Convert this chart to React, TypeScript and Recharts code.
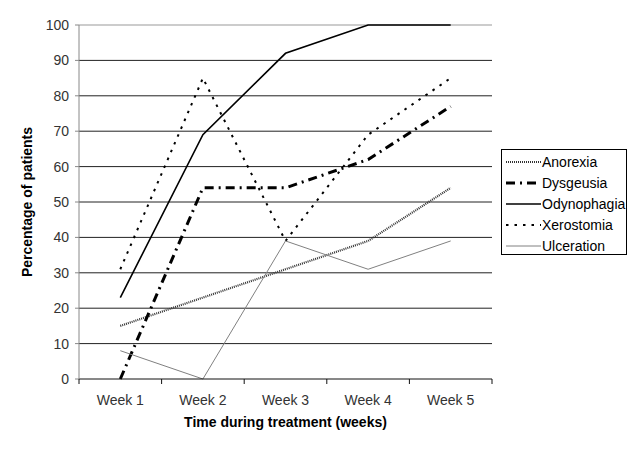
import React from 'react';
import { CartesianGrid, Legend, Line, LineChart, ReferenceLine, XAxis, YAxis } from 'recharts';

const weeks = ['Week 1', 'Week 2', 'Week 3', 'Week 4', 'Week 5'];
const anorexia = [15, 23, 31, 39, 54];
const dysgeusia = [0, 54, 54, 62, 77];
const odynophagia = [23, 69, 92, 100, 100];
const xerostomia = [31, 85, 39, 69, 85];
const ulceration = [8, 0, 39, 31, 39];
const yTicks = [0, 10, 20, 30, 40, 50, 60, 70, 80, 90, 100];

const series = [
  { key: 'Anorexia', values: anorexia, stroke: '#333', width: 2.2, dash: '1 1' },
  { key: 'Dysgeusia', values: dysgeusia, stroke: '#000', width: 3, dash: '9 5 2 5' },
  { key: 'Odynophagia', values: odynophagia, stroke: '#000', width: 1.6, dash: undefined },
  { key: 'Xerostomia', values: xerostomia, stroke: '#000', width: 2, dash: '2.5 6' },
  { key: 'Ulceration', values: ulceration, stroke: '#808080', width: 1, dash: undefined },
];

const data = weeks.map((week, i) => {
  const row: Record<string, string | number> = { week };
  series.forEach((s) => {
    row[s.key] = s.values[i];
  });
  return row;
});

const font = 'Arial, "Liberation Sans", sans-serif';

// labels sit in the middle of each band, tick marks on the band edges
function WeekTick(props: any) {
  const { x, y, payload, index, visibleTicksCount } = props;
  const half = payload.offset || 0;
  const isLast = index === visibleTicksCount - 1;
  return (
    <g>
      <line x1={x - half} y1={y} x2={x - half} y2={y + 5} stroke="#111" />
      {isLast && <line x1={x + half} y1={y} x2={x + half} y2={y + 5} stroke="#111" />}
      <text x={x} y={y + 26} textAnchor="middle" fill="#333" fontSize={14} fontFamily={font}>
        {payload.value}
      </text>
    </g>
  );
}

function LegendBox() {
  return (
    <div
      style={{
        border: '1px solid #000',
        background: '#fff',
        width: 124,
        height: 102,
        boxSizing: 'content-box',
        fontFamily: font,
        fontSize: 14,
        color: '#000',
        paddingTop: 2,
      }}
    >
      {series.map((s) => (
        <div key={s.key} style={{ display: 'flex', alignItems: 'center', height: 20.8 }}>
          <svg width={40} height={10} style={{ flex: 'none' }}>
            <line x1={4} y1={5} x2={39} y2={5} stroke={s.stroke} strokeWidth={s.width} strokeDasharray={s.dash} />
          </svg>
          <span style={{ lineHeight: '16px' }}>{s.key}</span>
        </div>
      ))}
    </div>
  );
}

export default function App() {
  return (
    <div style={{ position: 'absolute', left: 0, top: 0, background: '#fff' }}>
      <LineChart width={640} height={453} data={data} margin={{ top: 25, right: 148, bottom: 0, left: 0 }}>
        <CartesianGrid vertical={false} horizontalValues={[10, 20, 30, 40, 50, 60, 70, 80, 90]} stroke="#222" />
        <ReferenceLine y={100} stroke="#999" />
        <XAxis
          dataKey="week"
          scale="band"
          height={74}
          axisLine={{ stroke: '#111' }}
          tickLine={false}
          tickSize={0}
          tickMargin={0}
          interval={0}
          tick={<WeekTick />}
          label={{
            value: 'Time during treatment (weeks)',
            position: 'insideBottom',
            offset: 26,
            style: { fontWeight: 'bold', fontSize: 14, fontFamily: font, fill: '#000' },
          }}
        />
        <YAxis
          width={79}
          domain={[0, 100]}
          ticks={yTicks}
          interval={0}
          axisLine={{ stroke: '#888' }}
          tickLine={{ stroke: '#888' }}
          tickSize={4}
          tickMargin={6}
          tick={{ fill: '#333', fontSize: 14, fontFamily: font }}
          label={{
            value: 'Percentage of patients',
            angle: -90,
            position: 'insideLeft',
            offset: 27,
            style: { textAnchor: 'middle', fontWeight: 'bold', fontSize: 14, fontFamily: font, fill: '#000' },
          }}
        />
        <YAxis
          yAxisId="right"
          orientation="right"
          width={0}
          domain={[0, 100]}
          tick={false}
          tickLine={false}
          axisLine={{ stroke: '#999' }}
        />
        <Legend
          layout="vertical"
          align="center"
          verticalAlign="middle"
          wrapperStyle={{ left: 501, top: 149, width: 126, height: 106 }}
          content={() => <LegendBox />}
        />
        {series.map((s) => (
          <Line
            key={s.key}
            type="linear"
            dataKey={s.key}
            stroke={s.stroke}
            strokeWidth={s.width}
            strokeDasharray={s.dash}
            dot={false}
            activeDot={false}
            isAnimationActive={false}
          />
        ))}
      </LineChart>
    </div>
  );
}
